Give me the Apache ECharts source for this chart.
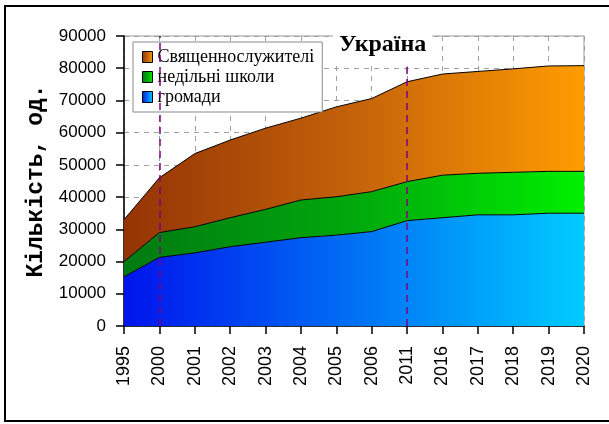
<!DOCTYPE html>
<html>
<head>
<meta charset="utf-8">
<script src="https://cdn.jsdelivr.net/npm/echarts@6/dist/echarts.min.js"></script>
<style>
html,body{margin:0;padding:0;background:#fff;}
#chart{width:609px;height:424px;}
</style>
</head>
<body>
<div id="chart"></div>
<script>
// роки (категорії)
var years = ['1995','2000','2001','2002','2003','2004','2005','2006','2011','2016','2017','2018','2019','2020'];
// громади
var hromady = [15300,21300,22700,24600,26000,27400,28200,29300,32700,33600,34500,34500,35000,35000];
// недільні школи
var shkoly = [4700,7700,8100,9000,10200,11700,11900,12400,12100,13200,12900,13200,13000,13000];
// священнослужителі
var sviash = [13000,17000,22700,24100,25200,25400,27900,28900,31000,31400,31600,32100,32700,32800];
var names = ['Священнослужителі','недільні школи','громади'];
var markYears = ['2000','2011'];
var yTicks = {min:0, max:90000, step:10000};

function grad(a,b,c){
	var stops = [{offset:0,color:a}];
	if(c){ stops.push({offset:0.5,color:b}); stops.push({offset:1,color:c}); }
	else stops.push({offset:1,color:b});
	return new echarts.graphic.LinearGradient(0,0,1,0,stops);
}
var colBrown = grad('#943404','#c4620a','#ff9c00');
var colGreen = grad('#007a12','#00a80c','#00f000');
var colBlue  = grad('#0014ec','#0070f4','#00ccff');

var chart = echarts.init(document.getElementById('chart'));

function areaSeries(name, data, col, extra){
	var s = {
		name:name,
		type:'line',
		stack:'all',
		data:data,
		symbol:'none',
		showSymbol:false,
		itemStyle:{color:col},
		lineStyle:{color:'#000',width:1},
		areaStyle:{color:col,opacity:1},
		animation:false
	};
	if(extra){ for(var k in extra) s[k]=extra[k]; }
	return s;
}

var option = {
	backgroundColor:'#fff',
	animation:false,
	title:{
		text:'Україна',
		left:333,
		top:31,
		padding:[2,6,9,6],
		backgroundColor:'#fff',
		textStyle:{fontFamily:'Liberation Serif',fontWeight:'bold',fontSize:24,color:'#000'}
	},
	legend:{
		orient:'vertical',
		left:133,
		top:42,
		width:180,
		padding:[6,8,6,9],
		itemGap:2,
		itemWidth:10,
		itemHeight:11,
		icon:'rect',
		backgroundColor:'#fff',
		borderColor:'#8a8a8a',
		borderWidth:1,
		borderRadius:0,
		itemStyle:{borderColor:'#000',borderWidth:1},
		textStyle:{fontFamily:'Liberation Serif',fontSize:18,color:'#000',lineHeight:18,padding:0},
		data:[
			{name:names[0],itemStyle:{color:colBrown}},
			{name:names[1],itemStyle:{color:colGreen}},
			{name:names[2],itemStyle:{color:colBlue}}
		]
	},
	grid:{left:124,right:25,top:36,bottom:98,show:true,borderColor:'#999',borderWidth:1,containLabel:false},
	xAxis:{
		type:'category',
		data:years,
		boundaryGap:false,
		axisLine:{lineStyle:{color:'#000',width:1.5}},
		axisTick:{length:8,lineStyle:{color:'#000',width:1.5}},
		axisLabel:{rotate:90,margin:20,fontFamily:'Liberation Sans',fontSize:18,color:'#000',interval:0},
		splitLine:{show:true,lineStyle:{color:'#a0a0a0',type:[5,5],width:1}}
	},
	yAxis:{
		type:'value',
		min:yTicks.min,
		max:yTicks.max,
		interval:yTicks.step,
		name:'Кількість, од.',
		nameLocation:'middle',
		nameGap:74,
		nameTextStyle:{fontFamily:'Liberation Mono',fontWeight:'bold',fontSize:23,color:'#000'},
		axisLine:{show:true,lineStyle:{color:'#000',width:1.5}},
		axisTick:{show:true,length:8,lineStyle:{color:'#000',width:1.5}},
		axisLabel:{margin:18,fontFamily:'Liberation Sans',fontSize:17,color:'#000',
			formatter:function(v){return String(v);}},
		splitLine:{show:true,lineStyle:{color:'#a0a0a0',type:[5,5],width:1}}
	},
	graphic:[{
		type:'rect',
		shape:{x:5,y:6,width:620,height:415},
		style:{fill:'none',stroke:'#000',lineWidth:2},
		z:100
	}],
	series:[
		areaSeries(names[2],hromady,colBlue),
		areaSeries(names[1],shkoly,colGreen),
		areaSeries(names[0],sviash,colBrown,{
			markLine:{
				silent:true,
				symbol:'none',
				label:{show:false},
				lineStyle:{color:'#800080',type:[7,5],width:1.5},
				data:markYears.map(function(y){return {xAxis:y};})
			}
		})
	]
};
chart.setOption(option);
</script>
</body>
</html>
